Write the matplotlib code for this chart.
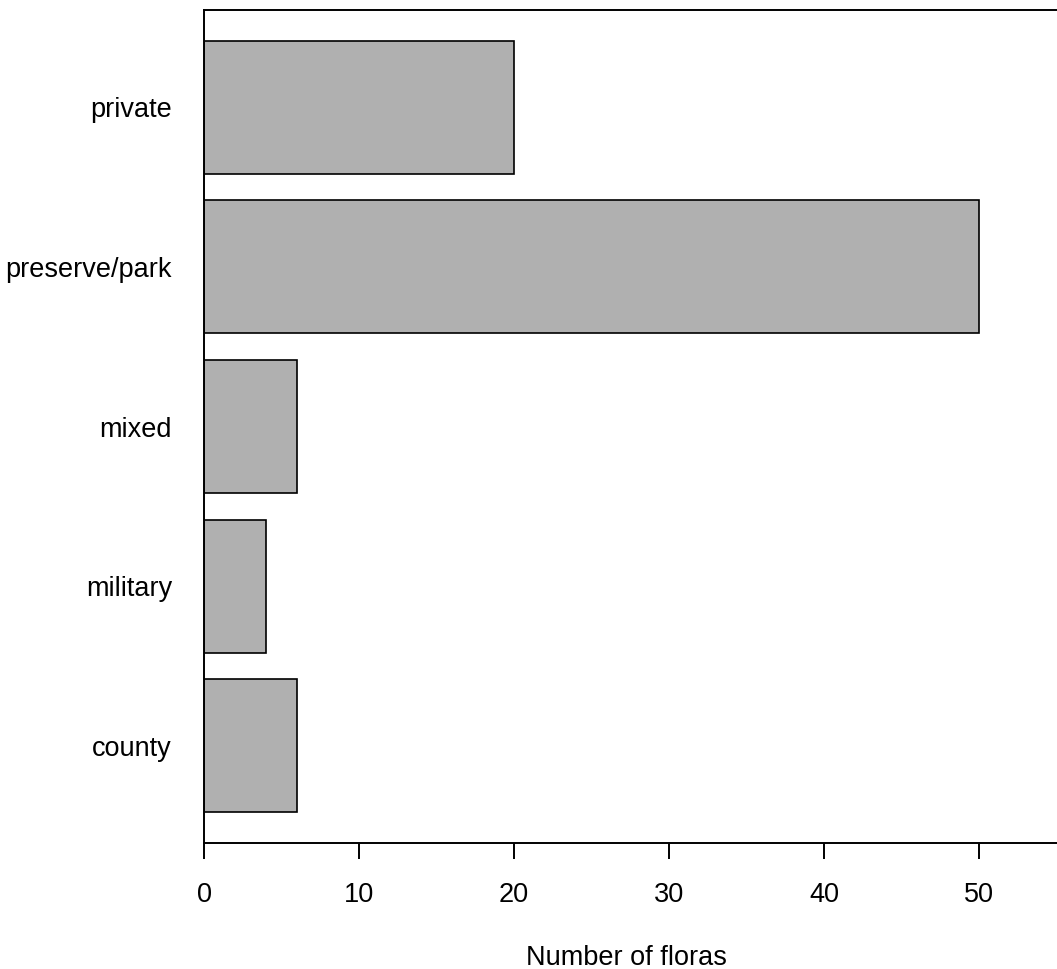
import matplotlib
matplotlib.use("Agg")
import matplotlib.pyplot as plt

categories = ["county", "military", "mixed", "preserve/park", "private"]
values = [6, 4, 6, 50, 20]
xticks = [0, 10, 20, 30, 40, 50]

plt.rcParams['font.family'] = ['Liberation Sans', 'DejaVu Sans']

W, H = 1057, 969
fig = plt.figure(figsize=(W/100, H/100), dpi=100)
ax = fig.add_axes([204/W, 1-843/H, (W-204)/W, (843-10)/H])

pos = [0.7 + 1.2*i for i in range(len(categories))]
ax.barh(pos, values, height=1.0, color="#b0b0b0", edgecolor="black", linewidth=1.2)
ax.set_xlim(0, 55)
ax.set_ylim(-0.032, 6.232)
ax.spines['right'].set_visible(False)
for s in ['left', 'top', 'bottom']:
    ax.spines[s].set_linewidth(1.4)
ax.set_xticks(xticks)
ax.set_xticklabels([str(t) for t in xticks], fontsize=19.5)
ax.tick_params(axis='x', length=11.5, width=1.4, pad=16.5)
ax.set_yticks(pos)
ax.set_yticklabels(categories, fontsize=19.5)
ax.tick_params(axis='y', length=0, pad=23)
fig.text(626/W, 1-958/H, "Number of floras", ha='center', va='center', fontsize=19.5)

fig.savefig("out.png", dpi=100)
